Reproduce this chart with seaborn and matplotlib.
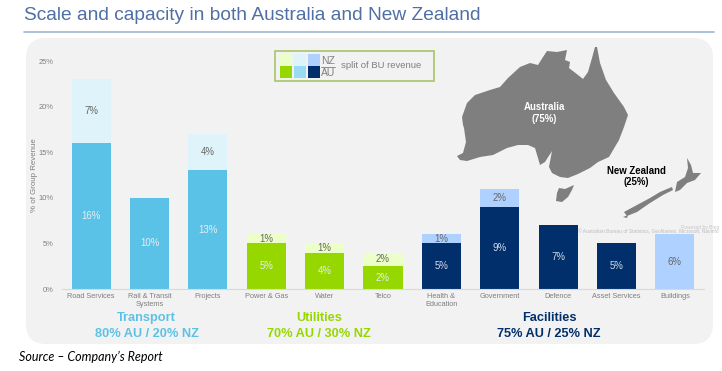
import pandas as pd
import matplotlib.pyplot as plt
import seaborn as sns
from matplotlib.patches import FancyBboxPatch, Polygon, Rectangle

# values
segments = ['Road Services', 'Rail & Transit\nSystems', 'Projects', 'Power & Gas', 'Water', 'Telco',
            'Health &\nEducation', 'Government', 'Defence', 'Asset Services', 'Buildings']
au_values = [16, 10, 13, 5, 4, 2.5, 5, 9, 7, 5, 0]
nz_values = [7, 0, 4, 1, 1, 1.5, 1, 2, 0, 0, 6]
au_labels = ['16%', '10%', '13%', '5%', '4%', '2%', '5%', '9%', '7%', '5%', '']
nz_labels = ['7%', '', '4%', '1%', '1%', '2%', '1%', '2%', '', '', '6%']
y_ticks = [0, 5, 10, 15, 20, 25]

BLUE, BLUE_PALE = '#5BC2E7', '#DFF3FA'
GREEN, GREEN_PALE = '#97D700', '#EDFFC8'
NAVY, NAVY_PALE = '#002F6C', '#AFD1FF'
au_colors = [BLUE] * 3 + [GREEN] * 3 + [NAVY] * 5
nz_colors = [BLUE_PALE] * 3 + [GREEN_PALE] * 3 + [NAVY_PALE] * 5

# map outlines, in picture pixels
australia = [(597, 47), (600, 63), (606, 80), (614, 93), (624, 107), (628, 115), (624, 127), (619, 140),
             (609, 157), (598, 162), (590, 168), (578, 174), (568, 178), (560, 177), (552, 173), (549, 167),
             (552, 151), (545, 162), (540, 165), (538, 158), (535, 148), (528, 145), (518, 145), (507, 148),
             (493, 155), (480, 157), (467, 161), (460, 160), (457, 156), (463, 153), (466, 142), (464, 128),
             (463, 125), (462, 117), (467, 103), (475, 95), (490, 90), (500, 87), (508, 78), (520, 67),
             (530, 63), (538, 65), (543, 57), (547, 51), (557, 52), (567, 50), (565, 60), (570, 62),
             (569, 68), (578, 75), (583, 79), (588, 72), (592, 58), (595, 47)]
tasmania = [(559, 188), (565, 189), (574, 185), (572, 190), (568, 197), (562, 202), (556, 201), (557, 193)]
nz_north = [(687, 158), (691, 165), (693, 173), (701, 173), (695, 180), (687, 183), (680, 190), (675, 192),
            (677, 182), (685, 177), (688, 168)]
nz_south = [(672, 187), (673, 190), (663, 195), (650, 203), (637, 212), (627, 216), (624, 212), (637, 205),
            (650, 198), (660, 192), (667, 189)]
nz_stewart = [(623, 217), (628, 215), (627, 218)]

sns.set_theme(style='white')
plt.rcParams['font.family'] = ['Liberation Sans', 'DejaVu Sans']

df = pd.DataFrame({'segment': segments, 'au': au_values, 'nz': nz_values})
df['total'] = df['au'] + df['nz']

fig = plt.figure(figsize=(7.22, 3.71), dpi=100, facecolor='white')

# background layer in pixels: panel, map, legend, titles
bg = fig.add_axes([0, 0, 1, 1], zorder=0)
bg.set_xlim(0, 722)
bg.set_ylim(371, 0)
bg.axis('off')

bg.text(24, 16, 'Scale and capacity in both Australia and New Zealand', fontsize=13.8, color='#4F6FA5', va='center')
bg.plot([24, 714], [32, 32], color='#9DB4D6', lw=1.2)
bg.add_patch(FancyBboxPatch((46, 58), 647, 266, boxstyle='round,pad=20,rounding_size=20', fc='#F2F2F2', ec='none'))

for shape in [australia, tasmania, nz_north, nz_south, nz_stewart]:
    bg.add_patch(Polygon(shape, closed=True, fc='#7F7F7F', ec='none'))
bg.text(544, 113, 'Australia\n(75%)', color='white', fontsize=6.9, fontweight='bold', ha='center', va='center', linespacing=1.3)
bg.text(636, 176.5, 'New Zealand\n(25%)', color='black', fontsize=6.9, fontweight='bold', ha='center', va='center', linespacing=1.15)
bg.text(681, 227, 'Powered by Bing', color='#C8C8C8', fontsize=3.6, va='center')
bg.text(578, 232, '© Australian Bureau of Statistics, GeoNames, Microsoft, Navinfo', color='#BDBDBD', fontsize=3.5, va='center')

# legend box
bg.add_patch(Rectangle((275, 51), 159, 30, fc='#F2F2F2', ec='#A9C46C', lw=1.2))
for x0, top, bottom in [(280, GREEN_PALE, GREEN), (294, BLUE_PALE, '#9ADBF3'), (308, NAVY_PALE, NAVY)]:
    bg.add_patch(Rectangle((x0, 54), 12, 11.5, fc=top, ec='none'))
    bg.add_patch(Rectangle((x0, 66), 12, 12, fc=bottom, ec='none'))
bg.text(328, 61, 'NZ', color='#7F7F7F', fontsize=7.5, ha='center', va='center')
bg.plot([321, 335], [66.5, 66.5], color='#7F7F7F', lw=0.6)
bg.text(328, 72.5, 'AU', color='#7F7F7F', fontsize=7.5, ha='center', va='center')
bg.text(341, 66, 'split of BU revenue', color='#7F7F7F', fontsize=6.8, va='center')

# group captions under the bars
for x0, name, split, color in [(146.5, 'Transport', '80% AU / 20% NZ', BLUE),
                               (319, 'Utilities', '70% AU / 30% NZ', '#97D700'),
                               (549, 'Facilities', '75% AU / 25% NZ', NAVY)]:
    bg.text(x0, 318, name, color=color, fontsize=9.2, fontweight='bold', ha='center', va='center')
    bg.text(x0, 334, split, color=color, fontsize=9.2, fontweight='bold', ha='center', va='center')

bg.text(19, 357, 'Source – Company’s Report', color='black', fontsize=9, fontstyle='italic', family='Lato', va='center')

# bar chart
ax = fig.add_axes([62 / 722, (371 - 289) / 371, (704 - 62) / 722, (289 - 61) / 371], zorder=1)
ax.patch.set_alpha(0)

# NZ share sits on top of AU, so the totals go first
sns.barplot(data=df, x='segment', y='total', hue='segment', palette=nz_colors, legend=False, width=0.67,
            saturation=1, linewidth=0, ax=ax)
sns.barplot(data=df, x='segment', y='au', hue='segment', palette=au_colors, legend=False, width=0.67,
            saturation=1, linewidth=0, ax=ax)

for i in range(len(segments)):
    label_color = '#E4EEF6' if au_colors[i] != NAVY else '#D5DCE8'
    ax.text(i, au_values[i] / 2, au_labels[i], color=label_color, fontsize=6.9, ha='center', va='center')
    ax.text(i, au_values[i] + nz_values[i] / 2, nz_labels[i], color='#666666', fontsize=6.9, ha='center', va='center')

ax.set_xlim(-0.5, 10.5)
ax.set_ylim(0, 25)
ax.set_yticks(y_ticks)
ax.set_yticklabels([f'{t}%' for t in y_ticks])
ax.set_xlabel('')
ax.set_ylabel('')
ax.tick_params(axis='y', length=0, pad=6, labelsize=5.4, labelcolor='#7F7F7F')
ax.tick_params(axis='x', length=0, pad=3, labelsize=5.3, labelcolor='#7F7F7F')
for label in ax.get_xticklabels():
    label.set_linespacing(1.25)
sns.despine(ax=ax, left=True)
ax.spines['bottom'].set_color('#D9D9D9')
ax.spines['bottom'].set_linewidth(0.8)

bg.text(35, 175, '% of Group Revenue', color='#7F7F7F', fontsize=5.7, rotation=90, ha='center', va='center')

fig.savefig('out.png', dpi=100)
